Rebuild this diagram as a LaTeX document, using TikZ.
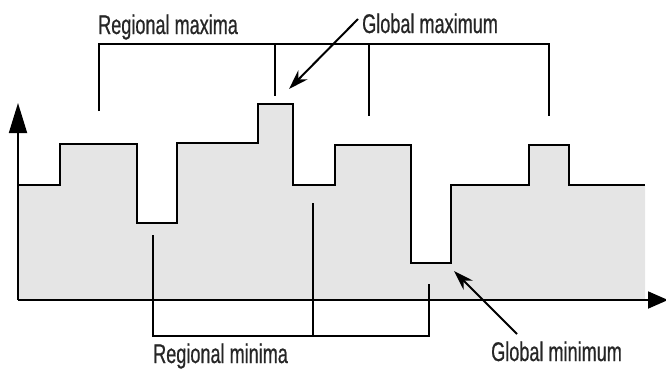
\documentclass[tikz,border=0pt]{standalone}
\usepackage{fontspec}
\newfontfamily\lblfont{Liberation Sans}[FakeStretch=0.67,FakeBold=0.6]
\usetikzlibrary{arrows.meta}
\tikzset{
  lbl/.style={inner sep=0pt, anchor=base west, text=black!85, font=\lblfont\fontsize{27pt}{27pt}\selectfont},
  prof/.style={line width=1.8pt, line join=miter},
  brk/.style={line width=1.8pt},
  axis/.style={line width=1.8pt},
  callout/.style={line width=2pt, -{Stealth[length=20pt,width=13pt]}},
}
\begin{document}
\begin{tikzpicture}[x=1pt,y=-1pt]
\useasboundingbox (0,0) rectangle (666,368);
% fill
\fill[black!10] (18,185) -- (60,185) -- (60,144) -- (137,144) -- (137,223) -- (177,223) -- (177,143) -- (258,143) -- (258,104) -- (293,104) -- (293,185) -- (335,185) -- (335,145) -- (411,145) -- (411,263) -- (451,263) -- (451,185) -- (529,185) -- (529,145) -- (569,145) -- (569,185) -- (645,185) -- (645,300) -- (18,300) -- cycle;
% profile
\draw[prof] (18,185) -- (60,185) -- (60,144) -- (137,144) -- (137,223) -- (177,223) -- (177,143) -- (258,143) -- (258,104) -- (293,104) -- (293,185) -- (335,185) -- (335,145) -- (411,145) -- (411,263) -- (451,263) -- (451,185) -- (529,185) -- (529,145) -- (569,145) -- (569,185) -- (645,185);
% axes
\coordinate (origin) at (18,300);
\coordinate (ytip) at (18,103);
\coordinate (xtip) at (668,300);
\draw[axis,-{Triangle[length=30pt,width=18pt]}] (origin) -- (ytip);
\draw[axis,-{Triangle[length=20pt,width=17pt]}] (origin) -- (xtip);
% regional maxima bracket
\coordinate (m1) at (99,111);
\coordinate (m2) at (275,96);
\coordinate (m3) at (369,116);
\coordinate (m4) at (549,116);
\draw[brk] (m1) -- (99,44) -- (549,44) -- (m4);
\draw[brk] (275,44) -- (m2);
\draw[brk] (369,44) -- (m3);
% regional minima bracket
\coordinate (n1) at (153,235);
\coordinate (n2) at (313,203);
\coordinate (n3) at (429,284);
\draw[brk] (n1) -- (153,336) -- (429,336) -- (n3);
\draw[brk] (n2) -- (313,336);
% labels
\node[lbl] (rmax) at (98,34) {Regional maxima};
\node[lbl] (gmax) at (362,33) {Global maximum};
\node[lbl] (gmin) at (491,361) {Global minimum};
\node[lbl] (rmin) at (153,363) {Regional minima};
% callouts
\coordinate (gmaxS) at (358,19);
\coordinate (gmaxT) at (289,89);
\coordinate (gminS) at (517,334);
\coordinate (gminT) at (454,271);
\draw[callout] (gmaxS) -- (gmaxT);
\draw[callout] (gminS) -- (gminT);
\end{tikzpicture}
\end{document}
